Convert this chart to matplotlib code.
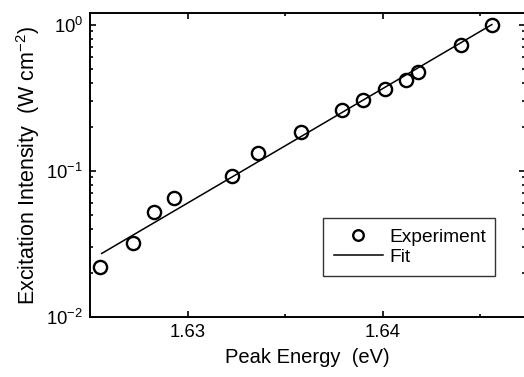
import numpy as np
import matplotlib
matplotlib.use("Agg")
import matplotlib.pyplot as plt
from matplotlib.ticker import LogLocator, MultipleLocator, NullFormatter, FormatStrFormatter

plt.rcParams['font.family'] = ['Liberation Sans', 'DejaVu Sans']
plt.rcParams['mathtext.fontset'] = 'custom'
plt.rcParams['mathtext.rm'] = 'Liberation Sans'

# measured points
energy = [1.6255, 1.6272, 1.6283, 1.6293, 1.6323, 1.6336, 1.6358, 1.6379,
          1.6390, 1.6401, 1.6412, 1.6418, 1.6440, 1.6456]
intensity = [0.022, 0.032, 0.052, 0.065, 0.092, 0.133, 0.183, 0.259,
             0.304, 0.362, 0.418, 0.474, 0.728, 1.0]
# fit line end points
fit_E = [1.6256, 1.6456]
fit_I = [0.0272, 1.0]

fig = plt.figure(figsize=(5.24, 3.77), dpi=100)
ax = fig.add_axes([90/524, 60/377, 435/524, 304/377])

ax.plot(energy, intensity, 'o', mfc='none', mec='black', ms=9.5, mew=1.7,
        label='Experiment')
ax.plot(fit_E, fit_I, '-', color='black', lw=1.1, label='Fit')

ax.set_yscale('log')
ax.set_xlim(1.6250, 1.6473)
ax.set_ylim(0.01, 1.2)
ax.xaxis.set_major_locator(MultipleLocator(0.01))
ax.xaxis.set_minor_locator(MultipleLocator(0.005))
ax.xaxis.set_major_formatter(FormatStrFormatter('%.2f'))
ax.yaxis.set_major_locator(LogLocator(base=10, numticks=5))
ax.yaxis.set_minor_locator(LogLocator(base=10, subs=np.arange(2, 10), numticks=10))
ax.yaxis.set_minor_formatter(NullFormatter())

ax.tick_params(which='both', direction='in', top=True, right=True,
               labelsize=13.3, color='black', width=1.2)
ax.tick_params(which='major', length=4.5, pad=5)
ax.tick_params(which='minor', length=2.5)
for s in ax.spines.values():
    s.set_linewidth(1.4)

ax.set_xlabel('Peak Energy  (eV)', fontsize=14.5, labelpad=5)
ax.set_ylabel('Excitation Intensity  (W cm$^{-2}$)', fontsize=15.5, labelpad=3)

leg = ax.legend(loc='upper left', bbox_to_anchor=(233/435, 99/304, 172/435, 0),
                mode='expand', fontsize=13.8, frameon=True, fancybox=False,
                edgecolor='black', borderaxespad=0, handlelength=2.6,
                handletextpad=0.3, borderpad=0.55, labelspacing=0.12,
                markerscale=0.8)
leg.get_frame().set_linewidth(1.0)

fig.savefig('out.png', dpi=100)
